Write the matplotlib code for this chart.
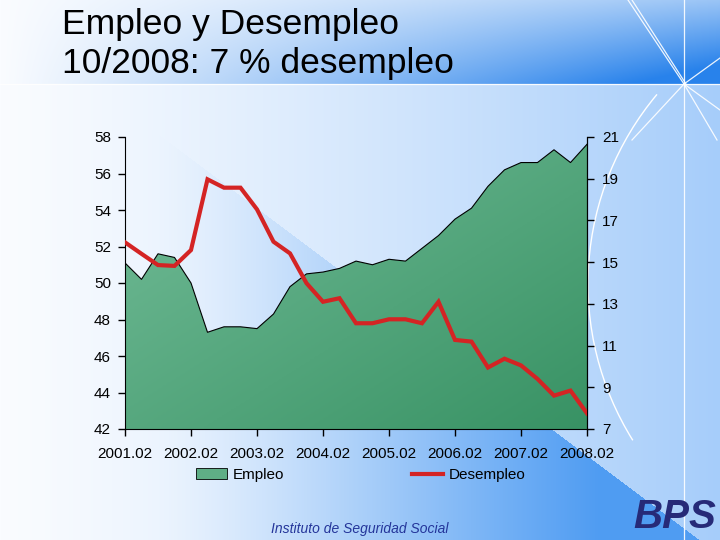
import numpy as np
import matplotlib
matplotlib.use('Agg')
import matplotlib.pyplot as plt
from matplotlib.patches import Patch, Arc
from matplotlib.lines import Line2D

plt.rcParams['font.family'] = ['Liberation Sans', 'DejaVu Sans']

# quarterly data, 2001.02 .. 2008.02
ticklabels = ['2001.02', '2002.02', '2003.02', '2004.02',
              '2005.02', '2006.02', '2007.02', '2008.02']
empleo = [51.1, 50.2, 51.6, 51.4, 50.0, 47.3, 47.6, 47.6, 47.5, 48.3,
          49.8, 50.5, 50.6, 50.8, 51.2, 51.0, 51.3, 51.2, 51.9, 52.6,
          53.5, 54.1, 55.3, 56.2, 56.6, 56.6, 57.3, 56.6, 57.6]
desempleo = [15.95, 15.4, 14.86, 14.82, 15.58, 18.97, 18.57, 18.57, 17.53, 15.98,
             15.42, 13.99, 13.1, 13.27, 12.07, 12.07, 12.26, 12.26, 12.07, 13.1,
             11.27, 11.19, 9.95, 10.37, 10.05, 9.4, 8.6, 8.84, 7.75]
x = np.arange(len(empleo))

W, H = 720, 540
fig = plt.figure(figsize=(7.2, 5.4), dpi=100)

# background: slide gradient
bg = fig.add_axes([0, 0, 1, 1], zorder=-10)
yy, xx = np.mgrid[0:H, 0:W].astype(float)
white = np.array([250, 252, 255]) / 255
light = np.array([166, 205, 250]) / 255
dark = np.array([79, 156, 242]) / 255
band = np.array([40, 130, 235]) / 255

t = (xx / W) ** 1.2
img = white + (light - white) * t[..., None]
below = yy > 430 + 0.75 * (xx - 553)
w = np.clip((xx - 150) / 450, 0, 1) ** 1.5 * below
img = img + (dark - img) * w[..., None]
s = np.clip(1.15 * (xx / W) ** 1.1 * (0.4 + 0.6 * yy / 83), 0, 1)
top = (white + (band - white) * s[..., None])
img[yy < 84] = top[yy < 84]
bg.imshow(img, extent=[0, W, H, 0], aspect='auto')
bg.set_xlim(0, W)
bg.set_ylim(H, 0)
bg.axis('off')

# decorative lines
lc = dict(color='white', lw=0.9, alpha=0.9)
bg.plot([0, W], [83.5, 83.5], **lc)
bg.plot([684, 684], [0, H], **lc)
bg.plot([628, 684], [0, 84], **lc)
bg.plot([632, 686], [0, 84], **lc)
bg.plot([684, 720], [84, 58], **lc)
bg.plot([684, 720], [84, 110], **lc)
bg.plot([684, 717], [84, 140], **lc)
bg.plot([684, 632], [84, 140], **lc)
bg.add_patch(Arc((883, 284), 590, 590, theta1=148, theta2=220, color='white', lw=1.0))

# title
fig.text(62 / W, 1 - 34 / H, 'Empleo y Desempleo', fontsize=25.5, va='baseline')
fig.text(62 / W, 1 - 73 / H, '10/2008: 7 % desempleo', fontsize=25.5, va='baseline')

# main chart
ax = fig.add_axes([125 / W, 1 - 429 / H, 462 / W, 292 / H])
ax.patch.set_visible(False)
poly = ax.fill_between(x, 42, empleo, facecolor='none', edgecolor='none')
gy, gx = np.mgrid[0:100, 0:100] / 99.0
gt = np.clip(0.6 * gx + 0.6 * gy - 0.2, 0, 1)
g_light = np.array([106, 182, 144]) / 255
g_dark = np.array([56, 146, 100]) / 255
grad = g_light + (g_dark - g_light) * gt[..., None]
im = ax.imshow(grad, extent=[0, 28, 42, 58], aspect='auto', origin='upper', zorder=1)
im.set_clip_path(poly.get_paths()[0], transform=ax.transData)
ax.plot(x, empleo, color='black', lw=0.8, zorder=2)
ax.set_xlim(0, 28)
ax.set_ylim(42, 58)
ax.set_yticks(range(42, 59, 2))
ax.set_xticks(range(0, 29, 4))
ax.set_xticklabels(ticklabels)
ax.tick_params(axis='y', length=5, width=1, pad=5, labelsize=11)
ax.tick_params(axis='x', length=5, width=1, pad=8, labelsize=11)
ax.spines['top'].set_visible(False)

ax2 = ax.twinx()
ax2.plot(x, desempleo, color='#d42424', lw=3.0, solid_joinstyle='miter', zorder=3)
ax2.set_ylim(7, 21)
ax2.set_yticks(range(7, 22, 2))
ax2.tick_params(axis='y', length=5, width=1, pad=6, labelsize=11)
for sp in ['top', 'left', 'bottom']:
    ax2.spines[sp].set_visible(False)

handles = [Patch(facecolor='#5fae86', edgecolor='black', lw=0.6, label='Empleo'),
           Line2D([], [], color='#d42424', lw=3.0, label='Desempleo')]
fig.legend(handles=handles, loc='center', bbox_to_anchor=(361 / W, 1 - 475 / H),
           ncol=2, frameon=False, fontsize=11, columnspacing=8.4,
           handlelength=2.0, handletextpad=0.4)

# footer
fig.text(360 / W, 1 - 533 / H, 'Instituto de Seguridad Social', fontsize=10,
         style='italic', color='#24359a', ha='center', va='baseline')
fig.text(716 / W, 1 - 528 / H, 'BPS', fontsize=29, weight='bold', style='italic',
         color='#262a78', ha='right', va='baseline')

fig.savefig('out.png', dpi=100)
